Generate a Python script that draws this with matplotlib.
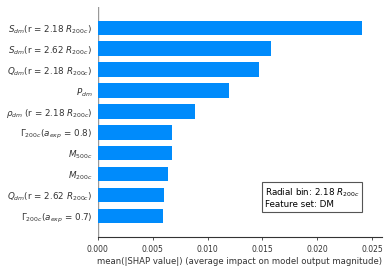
import matplotlib
matplotlib.use("Agg")
import matplotlib.pyplot as plt
import numpy as np

# ---- data (top feature first) ----
features = [
    r"$S_{dm}$(r = 2.18 $R_{200c}$)",
    r"$S_{dm}$(r = 2.62 $R_{200c}$)",
    r"$Q_{dm}$(r = 2.18 $R_{200c}$)",
    r"$P_{dm}$",
    r"$\rho_{dm}$ (r = 2.18 $R_{200c}$)",
    r"$\Gamma_{200c}$($a_{exp}$ = 0.8)",
    r"$M_{500c}$",
    r"$M_{200c}$",
    r"$Q_{dm}$(r = 2.62 $R_{200c}$)",
    r"$\Gamma_{200c}$($a_{exp}$ = 0.7)",
]
mean_shap = [0.02406, 0.01575, 0.01470, 0.01195, 0.00890,
             0.00680, 0.00677, 0.00637, 0.00600, 0.00592]

AXIS_COLOR = "#333333"
BLUE = "#008BFB"

fig = plt.figure(figsize=(3.9, 2.69), dpi=100)
ax = fig.add_axes([0.251, 0.120, 0.728, 0.854])

n = len(features)
ypos = np.arange(n)[::-1]
ax.axvline(0, color="#999999", linewidth=1, zorder=-1)
ax.barh(ypos, mean_shap, height=0.7, color=BLUE, align="center")

ax.set_yticks(ypos)
ax.set_yticklabels(features, fontsize=6.3, color=AXIS_COLOR)
ax.set_ylim(-1, n)
ax.set_xlim(0, 0.0259)
ax.set_xticks([0.0, 0.005, 0.010, 0.015, 0.020, 0.025])
ax.xaxis.set_major_formatter(matplotlib.ticker.FormatStrFormatter("%.3f"))

ax.xaxis.set_ticks_position("bottom")
ax.yaxis.set_ticks_position("none")
for s in ["right", "top", "left"]:
    ax.spines[s].set_visible(False)
ax.spines["bottom"].set_color(AXIS_COLOR)
ax.spines["bottom"].set_linewidth(0.8)
ax.tick_params("x", labelsize=5.5, colors=AXIS_COLOR, length=2.5, width=0.6)
ax.tick_params("y", pad=0.5)
ax.set_xlabel("mean(|SHAP value|) (average impact on model output magnitude)",
              fontsize=6.15, color=AXIS_COLOR, labelpad=2)

ax.text(0.0152, 0.88, "Radial bin: 2.18 $R_{200c}$\nFeature set: DM",
        fontsize=6.3, color="black", va="center", ha="left",
        bbox=dict(boxstyle="square,pad=0.3", facecolor="white",
                  edgecolor="#555555", linewidth=0.8))

fig.savefig("out.png", dpi=100)
